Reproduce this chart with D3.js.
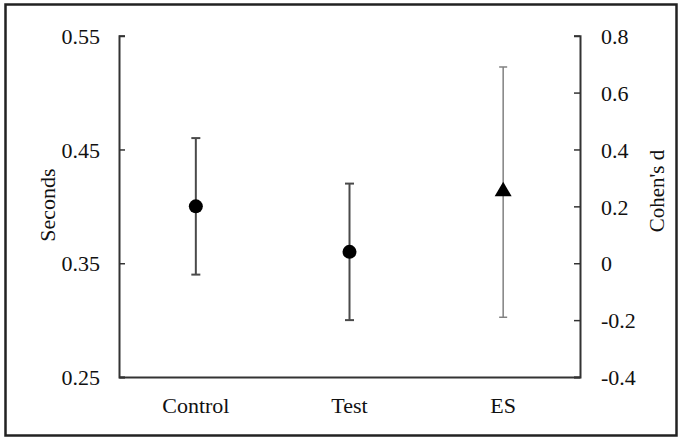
<!DOCTYPE html>
<html><head><meta charset="utf-8">
<script src="https://cdn.jsdelivr.net/npm/d3@7"></script>
<style>body{margin:0;background:#fff}svg{display:block}</style>
</head><body>
<script>
const categories = ["Control", "Test", "ES"];
const seconds = [{cat:"Control", mean:0.40, lo:0.34, hi:0.46}, {cat:"Test", mean:0.36, lo:0.30, hi:0.42}];
const effect = [{cat:"ES", mean:0.26, lo:-0.19, hi:0.69}];
const leftTicks = [0.25, 0.35, 0.45, 0.55];
const rightTicks = [-0.4, -0.2, 0, 0.2, 0.4, 0.6, 0.8];

const FONT = "'Liberation Serif', Tinos, 'Times New Roman', serif";
const W = 679, H = 438;
const svg = d3.select("body").append("svg").attr("width", W).attr("height", H)
  .attr("font-family", FONT).attr("font-size", 22);
svg.append("rect").attr("x", 5.5).attr("y", 4.5).attr("width", 671).attr("height", 431)
  .attr("fill", "none").attr("stroke", "#222").attr("stroke-width", 2.5);

const x0 = 119, x1 = 580, yTop = 35.7, yBot = 377;
const x = d3.scaleBand().domain(categories).range([x0, x1]);
const yL = d3.scaleLinear().domain([0.25, 0.55]).range([yBot, yTop]);
const yR = d3.scaleLinear().domain([-0.4, 0.8]).range([yBot, yTop]);

const gL = svg.append("g").attr("transform", `translate(${x0},0)`)
  .call(d3.axisRight(yL).tickValues(leftTicks).tickSize(6).tickFormat(d3.format(".2f")));
gL.selectAll("text").attr("x", -19).attr("text-anchor", "end").attr("dy", "0.35em");
const gR = svg.append("g").attr("transform", `translate(${x1},0)`)
  .call(d3.axisLeft(yR).tickValues(rightTicks).tickSize(6).tickFormat(d => d === 0 ? "0" : d3.format(".1f")(d).replace("−", "-")));
gR.selectAll("text").attr("x", 21).attr("text-anchor", "start").attr("dy", "0.35em");
[gL, gR].forEach(g => {
  g.attr("font-family", FONT).attr("font-size", 22);
  g.select(".domain").attr("stroke", "#333").attr("stroke-width", 2);
  g.selectAll(".tick line").attr("stroke", "#333").attr("stroke-width", 1.5);
});
const gB = svg.append("g").attr("transform", `translate(0,${yBot})`)
  .call(d3.axisBottom(x).tickSize(0).tickSizeOuter(0));
gB.attr("font-family", FONT).attr("font-size", 22);
gB.select(".domain").attr("stroke", "#333").attr("stroke-width", 2);
gB.selectAll("text").attr("y", 0).attr("dy", "36px");

svg.append("text").attr("transform", `translate(55,205) rotate(-90)`).attr("text-anchor", "middle").text("Seconds");
svg.append("text").attr("transform", `translate(664,191) rotate(-90)`).attr("text-anchor", "middle")
  .attr("font-size", 21).text("Cohen's d");
svg.selectAll("text").attr("fill", "#111");

function bars(data, y, color, sw, cap) {
  const g = svg.append("g");
  data.forEach(d => {
    const cx = x(d.cat) + x.bandwidth() / 2;
    g.append("line").attr("x1", cx).attr("x2", cx).attr("y1", y(d.lo)).attr("y2", y(d.hi)).attr("stroke", color).attr("stroke-width", sw);
    [d.lo, d.hi].forEach(v => g.append("line").attr("x1", cx - cap).attr("x2", cx + cap).attr("y1", y(v)).attr("y2", y(v)).attr("stroke", color).attr("stroke-width", sw));
  });
}
bars(seconds, yL, "#4a4a4a", 2, 4.5);
bars(effect, yR, "#808080", 1.5, 4);

svg.selectAll("circle.pt").data(seconds).join("circle").attr("class", "pt")
  .attr("cx", d => x(d.cat) + x.bandwidth() / 2).attr("cy", d => yL(d.mean)).attr("r", 7).attr("fill", "#000");
svg.selectAll("path.tri").data(effect).join("path").attr("class", "tri")
  .attr("transform", d => `translate(${x(d.cat) + x.bandwidth() / 2},${yR(d.mean)})`)
  .attr("d", "M0,-7.5L8.5,7L-8.5,7Z").attr("fill", "#000");
</script>
</body></html>
